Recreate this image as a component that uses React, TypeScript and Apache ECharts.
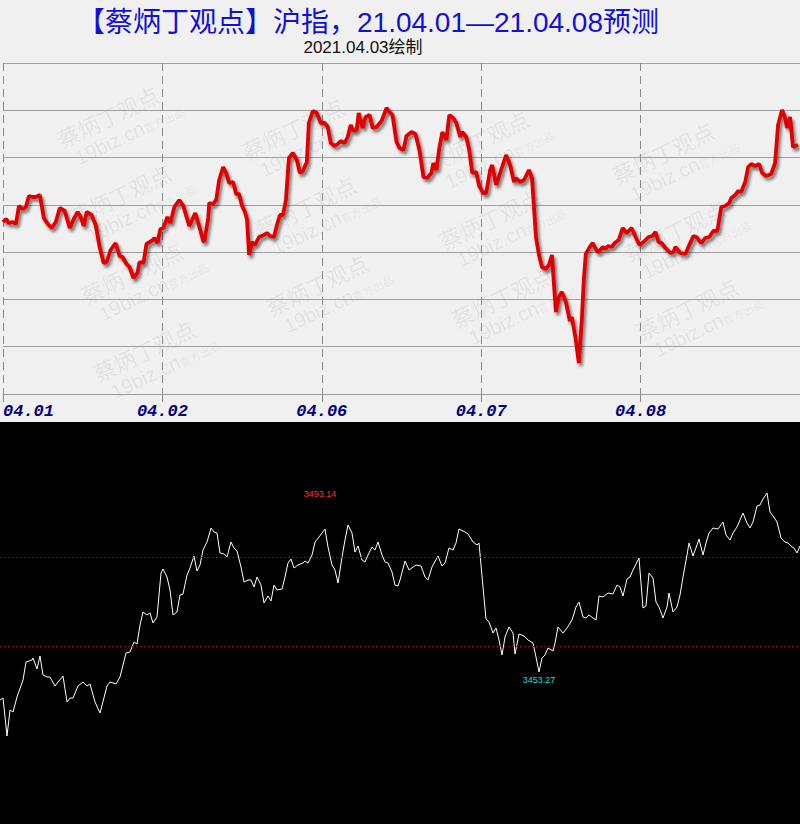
import React, { useEffect, useRef } from "react";
import * as echarts from "echarts";

// ---------- data ----------
const dayLabels = ["04.01", "04.02", "04.06", "04.07", "04.08"];
const STEPS_PER_DAY = 160;

// forecast line: [time step, level]
const topLine: [number, number][] = [
  [0,172],[3,175],[6,171],[10,172],[13,170],[16,188],[20,185],[23,187],[26,198],[30,197],[33,197],[37,199],
  [41,176],[45,170],[49,166],[53,172],[57,186],[62,183],[67,166],[71,175],[75,182],[78,177],[81,168],[84,182],
  [89,179],[93,169],[97,147],[101,131],[104,132],[108,144],[113,151],[117,138],[120,137],[124,130],[127,127],
  [131,116],[135,121],[137,132],[141,131],[144,150],[149,153],[152,156],[155,151],[158,165],[161,166],[165,177],
  [168,171],[172,187],[177,194],[181,188],[187,168],[193,181],[198,164],[201,153],[202,152],[206,176],[207,191],
  [211,190],[214,194],[217,214],[221,227],[224,221],[227,211],[231,212],[234,200],[237,200],[240,188],[243,182],
  [245,174],[247,139],[250,152],[253,149],[257,157],[262,159],[265,161],[268,158],[272,157],[275,169],[278,179],
  [281,179],[284,194],[287,236],[291,241],[295,234],[298,221],[301,223],[305,232],[307,271],[311,283],[315,281],
  [319,271],[323,271],[326,267],[329,251],[333,248],[336,250],[339,253],[343,251],[346,257],[349,269],[352,263],
  [355,264],[357,281],[361,266],[364,277],[368,279],[371,266],[375,267],[380,273],[385,286],[388,282],[391,279],
  [395,252],[398,246],[402,244],[405,258],[410,262],[414,260],[418,244],[422,217],[426,216],[430,221],[432,231],
  [435,224],[438,246],[441,262],[445,254],[448,279],[452,276],[455,271],[459,257],[461,262],[465,257],[468,244],
  [471,221],[475,222],[478,208],[482,201],[485,201],[489,224],[491,229],[495,209],[500,224],[505,239],[509,229],
  [513,212],[515,216],[519,212],[523,214],[528,224],[531,216],[535,157],[538,139],[541,127],[545,125],[548,129],
  [551,139],[555,82],[558,97],[561,102],[565,92],[569,73],[571,77],[575,54],[578,31],[581,74],[583,114],[585,140],
  [589,147],[592,151],[596,143],[598,142],[602,147],[605,145],[607,148],[611,147],[614,151],[618,154],[622,166],
  [626,161],[631,166],[635,157],[639,149],[643,152],[648,157],[652,158],[655,162],[658,152],[661,151],[665,146],
  [670,141],[673,142],[675,147],[680,141],[685,140],[688,147],[693,158],[696,157],[701,151],[705,156],[709,157],
  [713,163],[717,163],[721,187],[725,188],[729,191],[731,196],[735,199],[738,203],[741,202],[745,212],[748,227],
  [751,230],[755,228],[759,230],[762,221],[766,218],[771,220],[775,231],[778,269],[782,284],[785,276],[787,266],
  [790,277],[793,247],[798,249],
];

// intraday line (bottom panel): [time step, level]
const bottomLine: [number, number][] = [
  [0,124],[3,126],[7,88],[10,114],[13,112],[17,127],[23,144],[26,162],[32,164],[33,166],[37,155],[40,168],
  [43,149],[47,147],[50,147],[55,138],[58,142],[63,148],[67,122],[70,126],[73,126],[78,138],[83,142],[87,138],
  [90,140],[95,122],[100,111],[107,138],[110,142],[116,140],[120,147],[126,171],[130,172],[134,182],[137,180],
  [140,199],[143,212],[147,209],[150,211],[153,201],[157,207],[161,251],[163,255],[167,247],[170,234],[173,209],
  [177,212],[180,229],[183,230],[187,249],[190,256],[194,268],[197,253],[200,259],[203,274],[207,282],[211,296],
  [214,292],[217,291],[220,271],[224,270],[227,267],[231,282],[234,276],[237,273],[241,257],[244,242],[248,244],
  [251,244],[254,237],[257,247],[261,239],[264,221],[268,228],[271,223],[274,239],[277,234],[282,235],[285,247],
  [288,261],[291,265],[294,256],[298,259],[303,261],[305,263],[308,261],[312,269],[315,282],[319,287],[325,295],
  [328,277],[332,259],[335,254],[338,241],[342,267],[345,284],[348,299],[352,291],[355,272],[358,278],[362,264],
  [365,262],[368,269],[372,277],[375,274],[378,282],[382,269],[385,262],[388,261],[392,252],[395,239],[398,238],
  [400,244],[405,263],[409,254],[416,259],[421,258],[425,247],[428,244],[432,257],[438,268],[442,258],[445,261],
  [449,276],[453,274],[456,281],[459,295],[465,292],[468,290],[473,282],[477,279],[479,281],[483,237],[486,205],
  [489,202],[493,191],[496,196],[499,184],[502,169],[505,187],[509,197],[513,191],[515,170],[519,190],[524,188],
  [528,184],[533,181],[536,167],[539,152],[542,166],[545,169],[548,176],[553,173],[555,181],[558,197],[563,191],
  [567,196],[572,204],[576,217],[579,222],[583,207],[586,206],[589,209],[593,206],[596,204],[599,228],[603,227],
  [608,231],[613,230],[617,239],[620,237],[623,228],[627,245],[630,247],[633,254],[639,266],[643,216],[646,218],
  [649,251],[653,246],[656,222],[659,217],[663,206],[667,217],[669,231],[673,212],[677,217],[680,229],[683,247],
  [687,269],[689,281],[693,268],[697,279],[699,285],[703,269],[706,281],[709,291],[713,296],[718,295],[723,302],
  [726,289],[730,284],[733,291],[737,297],[740,304],[743,311],[747,301],[750,296],[753,302],[757,318],[760,319],
  [763,325],[767,331],[770,312],[773,308],[777,302],[781,286],[785,282],[788,281],[792,277],[794,276],[797,271],
  [800,278],
];

const bottomRefLevels = [267, 178];
const highMark = { t: 320, v: 330, text: "3493.14" };
const lowMark = { t: 539, v: 144, text: "3453.27" };

const titleText = "【蔡炳丁观点】沪指，21.04.01—21.04.08预测";
const subtitleText = "2021.04.03绘制";

const TOP_LEVEL_MAX = 331;
const TOP_GRID_LINES = 7;
const BOTTOM_LEVEL_MAX = 402;
const BOTTOM_STEPS = 800;

function buildWatermarks() {
  const out: any[] = [];
  const fill = "rgba(0,0,0,0.07)";
  for (let r = -2; r <= 6; r++) {
    for (let c = -2; c <= 5; c++) {
      const x = 63 + c * 185 + r * 12;
      const y = 150 + r * 78 + c * 12;
      // keep only marks that lie fully inside the upper panel
      if (x < 4 || x + 118 > 798 || y - 56 < 66 || y + 26 > 420) continue;
      out.push({
        type: "group",
        x,
        y,
        rotation: 0.45,
        z: 0,
        silent: true,
        children: [
          { type: "text", x: 0, y: 0, z: 0, style: { text: "蔡炳丁观点", font: '22px "Noto Sans CJK SC"', fill, textVerticalAlign: "bottom" } },
          { type: "text", x: 8, y: 24, z: 0, style: { text: "19biz.cn", font: '20px "Liberation Sans"', fill, textVerticalAlign: "bottom" } },
          { type: "text", x: 82, y: 22, z: 0, style: { text: "官方出品", font: '11px "Noto Sans CJK SC"', fill, textVerticalAlign: "bottom" } },
        ],
      });
    }
  }
  return out;
}

export default function App() {
  const ref = useRef<HTMLDivElement>(null);
  useEffect(() => {
    if (!ref.current) return;
    const chart = echarts.init(ref.current, undefined, { renderer: "svg" });
    const option: any = {
      animation: false,
      backgroundColor: "#f0f0f0",
      grid: [
        { left: 2, top: 63, width: 800, height: 331 },
        { left: 0, top: 422, width: 800, height: 402 },
      ],
      xAxis: [
        {
          type: "value",
          gridIndex: 0,
          min: 0,
          max: dayLabels.length * STEPS_PER_DAY,
          interval: STEPS_PER_DAY,
          axisLine: { show: true, lineStyle: { color: "#9a9a9a", width: 1 } },
          axisTick: { show: true, length: 8, lineStyle: { color: "#8a8a8a" } },
          splitLine: { show: true, lineStyle: { color: "#8a8a8a", type: [8, 5], width: 1 } },
          axisLabel: {
            formatter: (v: number) => dayLabels[Math.round(v / STEPS_PER_DAY)] ?? "",
            color: "#000080",
            fontFamily: "Liberation Mono",
            fontSize: 17,
            fontWeight: "bold",
            fontStyle: "italic",
            margin: 9,
            alignMinLabel: "left",
            showMaxLabel: false,
          },
        },
        { type: "value", gridIndex: 1, min: 0, max: BOTTOM_STEPS, show: false },
      ],
      yAxis: [
        {
          type: "value",
          gridIndex: 0,
          min: 0,
          max: TOP_LEVEL_MAX,
          interval: TOP_LEVEL_MAX / TOP_GRID_LINES,
          axisLine: { show: false },
          axisTick: { show: false },
          axisLabel: { show: false },
          splitLine: { show: true, lineStyle: { color: "#a0a0a0", width: 1 } },
        },
        { type: "value", gridIndex: 1, min: 0, max: BOTTOM_LEVEL_MAX, show: false },
      ],
      graphic: [
        ...buildWatermarks(),
        { type: "rect", z: 1, silent: true, shape: { x: 0, y: 422, width: 800, height: 402 }, style: { fill: "#000000" } },
        {
          type: "text", z: 5, x: 368, y: 22,
          style: { text: titleText, font: '28px "Liberation Sans", "Noto Sans CJK SC"', fill: "#1010d8", textAlign: "center", textVerticalAlign: "middle" },
        },
        {
          type: "text", z: 5, x: 363, y: 47,
          style: { text: subtitleText, font: '17px "Liberation Sans", "Noto Sans CJK SC"', fill: "#111111", textAlign: "center", textVerticalAlign: "middle" },
        },
      ],
      series: [
        {
          type: "line",
          xAxisIndex: 0,
          yAxisIndex: 0,
          data: topLine,
          showSymbol: false,
          z: 3,
          lineStyle: {
            color: "#e00000",
            width: 3.8,
            shadowColor: "rgba(0,0,0,0.5)",
            shadowBlur: 3,
            shadowOffsetX: 2,
            shadowOffsetY: 3,
          },
        },
        {
          type: "line",
          xAxisIndex: 1,
          yAxisIndex: 1,
          data: bottomLine,
          showSymbol: false,
          z: 3,
          lineStyle: { color: "#ffffff", width: 1 },
          markLine: {
            silent: true,
            symbol: "none",
            label: { show: false },
            lineStyle: { color: "#a00000", type: [2, 2], width: 1 },
            data: bottomRefLevels.map((v) => ({ yAxis: v })),
          },
          markPoint: {
            silent: true,
            symbol: "circle",
            symbolSize: 1,
            itemStyle: { color: "transparent" },
            data: [
              { coord: [highMark.t, highMark.v], label: { show: true, position: "inside", formatter: highMark.text, color: "#ff3333", fontSize: 9, fontFamily: "Liberation Sans" } },
              { coord: [lowMark.t, lowMark.v], label: { show: true, position: "inside", formatter: lowMark.text, color: "#22dddd", fontSize: 9, fontFamily: "Liberation Sans" } },
            ],
          },
        },
      ],
    };
    chart.setOption(option);
    return () => chart.dispose();
  }, []);
  return (
    <div
      ref={ref}
      style={{ position: "fixed", left: 0, top: 0, width: 800, height: 824 }}
    />
  );
}
